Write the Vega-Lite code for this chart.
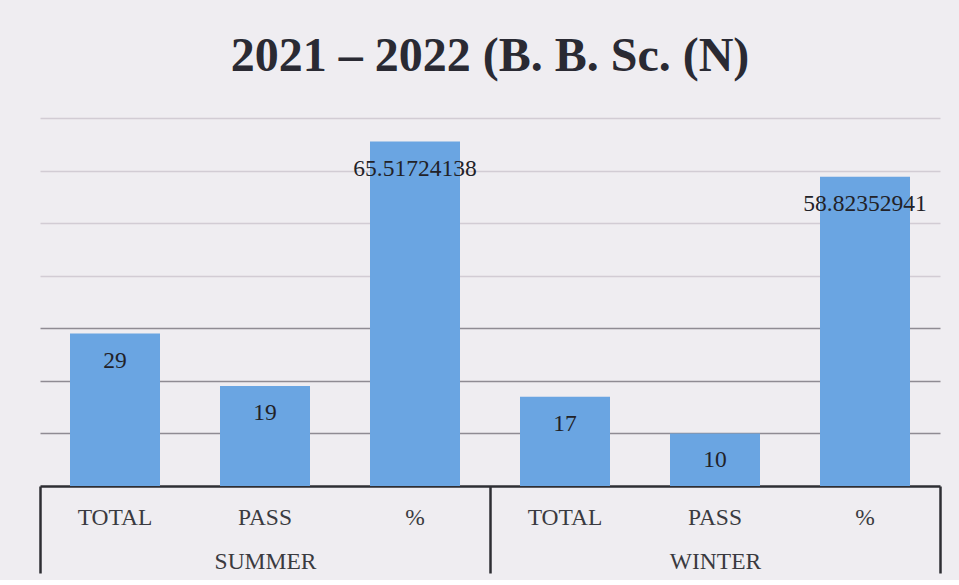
{
  "$schema": "https://vega.github.io/schema/vega-lite/v6.json",
  "width": 900,
  "height": 368,
  "padding": {"left": 38, "top": 33, "right": 19, "bottom": 5},
  "background": "#efedf1",
  "title": {
    "text": "2021 – 2022 (B. B. Sc. (N)",
    "font": "Liberation Serif",
    "fontSize": 48,
    "fontWeight": "bold",
    "color": "#2a2a33",
    "anchor": "middle",
    "offset": 37
  },
  "data": {
    "values": [
      {"cat": "SUMMER|TOTAL", "season": "SUMMER", "metric": "TOTAL", "value": 29},
      {"cat": "SUMMER|PASS", "season": "SUMMER", "metric": "PASS", "value": 19},
      {"cat": "SUMMER|%", "season": "SUMMER", "metric": "%", "value": 65.51724138},
      {"cat": "WINTER|TOTAL", "season": "WINTER", "metric": "TOTAL", "value": 17},
      {"cat": "WINTER|PASS", "season": "WINTER", "metric": "PASS", "value": 10},
      {"cat": "WINTER|%", "season": "WINTER", "metric": "%", "value": 58.82352941}
    ]
  },
  "layer": [
    {
      "encoding": {
        "x": {
          "field": "cat",
          "type": "nominal",
          "sort": null,
          "scale": {"paddingInner": 0.4, "paddingOuter": 0.2},
          "axis": {
            "title": null,
            "orient": "bottom",
            "labelExpr": "split(datum.label, '|')[1]",
            "labelAngle": 0,
            "labelFont": "Liberation Serif",
            "labelFontSize": 23.5,
            "labelColor": "#3a3a40",
            "labelBaseline": "middle",
            "labelPadding": 31,
            "ticks": false,
            "tickSize": 0,
            "domain": true,
            "domainColor": "#2e2e33",
            "domainWidth": 2.5,
            "grid": false
          }
        },
        "y": {
          "field": "value",
          "type": "quantitative",
          "scale": {"domain": [0, 70], "nice": false},
          "axis": {
            "title": null,
            "labels": false,
            "ticks": false,
            "domain": false,
            "grid": true,
            "values": [10, 20, 30, 40, 50, 60, 70],
            "gridColor": {"condition": {"test": "datum.value <= 30", "value": "#8f8b93"}, "value": "#d2ccd4"},
            "gridWidth": 1.5
          }
        }
      },
      "layer": [
        {"mark": {"type": "bar", "color": "#6aa5e2"}},
        {
          "mark": {"type": "text", "dy": 27, "baseline": "middle", "font": "Liberation Serif", "fontSize": 23.5, "color": "#222228"},
          "encoding": {"text": {"field": "value", "type": "quantitative"}}
        }
      ]
    },
    {
      "mark": {"type": "bar", "opacity": 0},
      "encoding": {
        "x": {
          "field": "season",
          "type": "nominal",
          "sort": null,
          "scale": {"paddingInner": 0, "paddingOuter": 0},
          "axis": {
            "title": null,
            "orient": "bottom",
            "labelAngle": 0,
            "labelFont": "Liberation Serif",
            "labelFontSize": 23.5,
            "labelColor": "#3a3a40",
            "labelBaseline": "middle",
            "labelPadding": -12,
            "ticks": true,
            "tickBand": "extent",
            "tickSize": 87,
            "tickWidth": 2.5,
            "tickColor": "#2e2e33",
            "domain": false,
            "grid": false
          }
        },
        "y": {"field": "value", "type": "quantitative", "stack": null}
      }
    }
  ],
  "resolve": {"scale": {"x": "independent"}, "axis": {"x": "independent"}},
  "config": {"view": {"stroke": null}}
}
